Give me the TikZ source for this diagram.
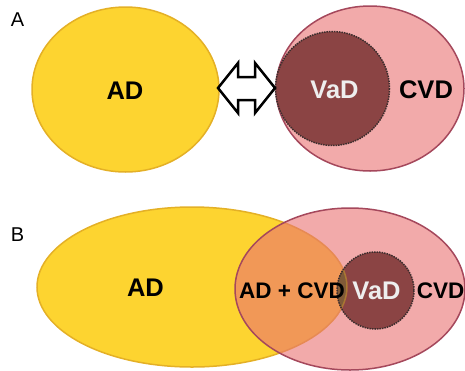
\documentclass[tikz,border=0pt]{standalone}
\usepackage{fontspec}
\setmainfont{Liberation Sans}
\definecolor{ylw}{RGB}{253,212,48}
\definecolor{ylwb}{RGB}{228,176,38}
\definecolor{pnk}{RGB}{233,113,113}
\definecolor{pnkb}{RGB}{165,72,92}
\definecolor{drk}{RGB}{139,68,68}
\definecolor{drkb}{RGB}{60,45,45}
\definecolor{olv}{RGB}{128,90,56}
\definecolor{vadc}{RGB}{238,238,238}
\begin{document}
\begin{tikzpicture}[x=1pt,y=-1pt,
  yfill/.style={fill=ylw},
  yline/.style={draw=ylwb,line width=1.5pt},
  pfill/.style={fill=pnk,fill opacity=0.6},
  pline/.style={draw=pnkb,line width=1.5pt},
  dfill/.style={fill=drk},
  dline/.style={draw=drkb,line width=1.5pt,densely dotted},
  lbl/.style={inner sep=0pt,font=\bfseries\fontsize{25.5}{26}\selectfont},
  lblsm/.style={inner sep=0pt,font=\bfseries\fontsize{22.5}{23}\selectfont},
  panel/.style={inner sep=0pt,font=\fontsize{20}{20}\selectfont},
  arrowbox/.style={draw=black,fill=white,line width=2.5pt,line join=miter}
]
\useasboundingbox (0,0) rectangle (465,370);
\clip (0,0) rectangle (465,370);

% ---------- Panel A ----------
\path[yfill] (125.5,89.5) ellipse [x radius=93.5, y radius=82.5];
\path[yline] (125.5,89.5) ellipse [x radius=93.5, y radius=82.5];
\path[pfill] (370,88.5) ellipse [x radius=94, y radius=82.5];
\path[pline] (370,88.5) ellipse [x radius=94, y radius=82.5];
\path[dfill] (332.5,88.5) circle [radius=57];
\path[dline] (332.5,88.5) circle [radius=57];

\path[arrowbox] (218,88) -- (238,63) -- (238,77) -- (255,77) -- (255,63)
  -- (275,88) -- (255,113) -- (255,100) -- (238,100) -- (238,113) -- cycle;

\node[panel] (labA) at (17.5,19.5) {A};
\node[lbl] (adA) at (125,90.5) {AD};
\node[lbl,text=vadc] (vadA) at (334.5,89.5) {VaD};
\node[lbl] (cvdA) at (426,89.5) {CVD};

% ---------- Panel B ----------
\path[yfill] (192,287) ellipse [x radius=155, y radius=80];
\path[yline] (192,287) ellipse [x radius=155, y radius=80];
\path[pfill] (350,289) ellipse [x radius=115, y radius=81];
\path[pline] (350,289) ellipse [x radius=115, y radius=81];
\path[dfill] (375.5,290.5) circle [radius=38.5];
\begin{scope}
  \clip (192,287) ellipse [x radius=155, y radius=80];
  \fill[olv] (375.5,290.5) circle [radius=38.5];
\end{scope}
\begin{scope}
  \clip (375.5,290.5) circle [radius=38.5];
  \draw[ylwb,line width=1.5pt,opacity=0.4] (192,287) ellipse [x radius=155, y radius=80];
\end{scope}
\path[dline] (375.5,290.5) circle [radius=38.5];

\node[panel] (labB) at (17.5,234.5) {B};
\node[lbl] (adB) at (145.5,287.5) {AD};
\node[lblsm] (adcvd) at (292,290.5) {AD + CVD};
\node[lbl,text=vadc] (vadB) at (376.5,291) {VaD};
\node[lblsm] (cvdB) at (440.5,290.5) {CVD};
\end{tikzpicture}
\end{document}
